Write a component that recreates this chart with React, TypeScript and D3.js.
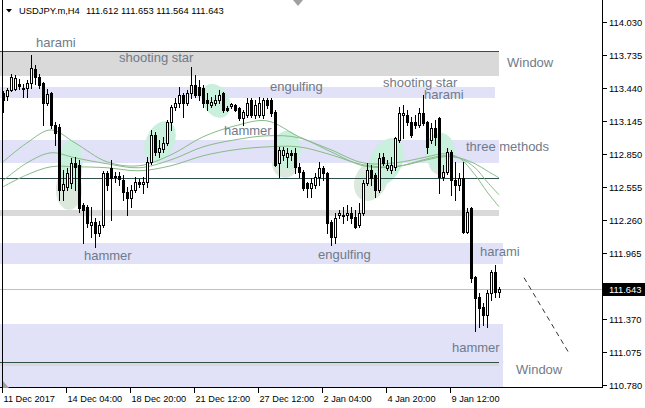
import React from "react";
import * as d3 from "d3";

const W = 645;
const H = 408;

// OHLC of USDJPY.m H4 bars (oldest first)
const opens = [113.395,113.368,113.422,113.431,113.476,113.440,113.440,113.485,113.610,113.538,113.485,113.306,113.395,113.109,113.091,112.528,112.555,112.591,112.769,112.752,112.394,112.376,112.215,112.242,112.144,112.215,112.680,112.725,112.653,112.653,112.617,112.510,112.457,112.528,112.600,112.582,112.600,112.778,113.020,112.868,112.895,112.948,113.136,113.270,113.306,113.377,113.306,113.395,113.467,113.449,113.440,113.333,113.288,113.306,113.333,113.395,113.261,113.279,113.288,113.261,113.172,113.199,113.333,113.199,113.199,113.199,113.333,113.333,113.225,112.769,112.841,112.823,112.859,112.859,112.734,112.689,112.591,112.546,112.573,112.644,112.725,112.680,112.242,112.108,112.305,112.305,112.305,112.322,112.287,112.215,112.322,112.591,112.707,112.662,112.528,112.823,112.725,112.707,112.734,112.975,113.199,113.199,113.136,113.136,113.109,113.216,113.136,112.975,113.082,113.172,112.644,112.689,112.868,112.617,112.573,112.635,112.153,112.367,111.750,111.570,111.482,111.411,111.607,111.795,111.612];
const highs = [113.413,113.440,113.565,113.556,113.520,113.476,113.511,113.735,113.646,113.565,113.494,113.431,113.404,113.136,113.118,112.707,112.725,112.814,112.823,112.796,112.412,112.394,112.376,112.278,112.251,112.698,112.698,112.796,112.689,112.689,112.662,112.555,112.573,112.644,112.626,112.644,112.823,113.064,113.047,112.975,113.002,113.154,113.288,113.351,113.449,113.395,113.422,113.628,113.556,113.511,113.467,113.395,113.359,113.377,113.422,113.404,113.279,113.306,113.297,113.270,113.243,113.351,113.351,113.333,113.359,113.351,113.351,113.351,113.243,112.912,112.912,112.904,112.886,112.904,112.769,112.707,112.600,112.635,112.680,112.778,112.743,112.689,112.260,112.322,112.349,112.376,112.394,112.376,112.349,112.412,112.617,112.769,112.752,112.680,112.859,112.859,112.796,112.823,113.002,113.270,113.288,113.243,113.181,113.199,113.261,113.377,113.140,113.127,113.154,113.181,112.752,112.904,112.886,112.778,112.680,112.778,112.367,112.370,111.759,111.607,111.518,111.634,111.813,111.858,111.653];
const lows = [113.225,113.333,113.413,113.422,113.431,113.359,113.359,113.440,113.476,113.440,113.109,113.288,113.082,112.930,112.439,112.439,112.528,112.546,112.528,112.331,112.054,112.197,112.108,112.018,112.117,112.197,112.528,112.260,112.600,112.573,112.439,112.305,112.376,112.510,112.555,112.501,112.555,112.761,112.841,112.823,112.868,112.930,113.064,113.243,113.270,113.181,113.288,113.351,113.359,113.333,113.270,113.243,113.270,113.288,113.306,113.225,113.234,113.261,113.234,113.154,113.109,113.181,113.181,113.172,113.181,113.172,113.261,113.190,112.745,112.644,112.796,112.734,112.796,112.680,112.644,112.528,112.465,112.465,112.546,112.573,112.617,112.144,112.036,112.054,112.278,112.233,112.260,112.233,112.188,112.197,112.305,112.573,112.573,112.465,112.510,112.752,112.707,112.680,112.707,112.957,112.993,113.109,113.002,113.082,113.091,113.109,112.859,112.948,112.930,112.501,112.617,112.671,112.483,112.439,112.528,112.145,112.144,111.706,111.259,111.303,111.321,111.303,111.545,111.571,111.564];
const closes = [113.333,113.422,113.538,113.529,113.458,113.431,113.485,113.619,113.538,113.467,113.306,113.386,113.109,113.038,112.528,112.582,112.680,112.769,112.734,112.367,112.349,112.233,112.242,112.144,112.215,112.680,112.573,112.635,112.644,112.626,112.510,112.457,112.528,112.600,112.582,112.600,112.778,113.020,112.868,112.904,112.948,113.136,113.270,113.306,113.377,113.306,113.395,113.467,113.377,113.377,113.306,113.306,113.315,113.333,113.377,113.243,113.243,113.297,113.243,113.172,113.225,113.306,113.199,113.288,113.306,113.333,113.288,113.216,112.752,112.886,112.886,112.859,112.841,112.734,112.689,112.546,112.546,112.591,112.644,112.725,112.680,112.233,112.108,112.278,112.322,112.296,112.322,112.278,112.197,112.322,112.591,112.707,112.635,112.528,112.814,112.769,112.752,112.752,112.993,113.216,113.216,113.136,113.020,113.109,113.216,113.127,112.912,113.082,113.002,112.644,112.689,112.868,112.617,112.573,112.635,112.153,112.331,111.741,111.563,111.473,111.411,111.607,111.795,111.616,111.643];

// time axis
const xTickBars = [0, 16, 32, 48, 64, 80, 96, 112];
const xTickLabels = ["11 Dec 2017", "14 Dec 04:00", "18 Dec 20:00", "21 Dec 12:00", "27 Dec 12:00", "2 Jan 04:00", "4 Jan 20:00", "9 Jan 12:00"];
// price axis
const yTickValues = [114.030, 113.735, 113.440, 113.145, 112.850, 112.555, 112.260, 111.965, 111.670, 111.370, 111.075, 110.780];

// three moving averages, sampled at these bars
const maBars = [0, 6, 12, 18, 26, 34, 42, 50, 58, 66, 74, 82, 90, 98, 106, 110, 114, 118, 121, 124];
const maFast = [112.778,112.948,113.064,112.948,112.778,112.743,112.841,113.002,113.100,113.145,113.002,112.886,112.769,112.769,112.823,112.850,112.814,112.662,112.510,112.376];
const maMid = [112.609,112.769,112.859,112.814,112.761,112.725,112.796,112.912,112.975,113.011,112.993,112.868,112.743,112.734,112.805,112.832,112.814,112.725,112.600,112.483];
const maSlow = [112.555,112.662,112.734,112.734,112.725,112.698,112.743,112.832,112.886,112.912,112.912,112.841,112.752,112.734,112.796,112.823,112.814,112.761,112.698,112.635];

// rectangles (price zones) : to bar, upper price, lower price
const zoneKinds = ["gray", "lav", "lav", "gray", "lav", "lav", "gray"];
const zoneTo = [124, 123, 124, 124, 125, 125, 124];
const zoneTop = [113.771, 113.449, 112.975, 112.349, 112.054, 111.330, 110.990];
const zoneBottom = [113.547, 113.351, 112.769, 112.296, 111.867, 110.740, 110.946];

// horizontal lines
const hLinePrices = [113.771, 112.635, 110.990];
const hLineTo = [124, 124, 124];

const lastPrice = 111.643;

// pattern highlight ellipses: bar, price, radii (px), rotation, tone
const ellBar = [16.5, 17, 39.25, 53.25, 70.5, 71, 92, 95.75, 109.5, 109.25];
const ellPrice = [112.528, 112.752, 112.957, 113.324, 112.769, 112.886, 112.609, 112.778, 112.761, 112.868];
const ellRx = [13, 11.5, 14, 13, 13, 14, 16, 16, 12, 15];
const ellRy = [20, 25, 22, 18, 15, 19, 21, 25, 11, 19];
const ellRot = [0, 0, 25, -30, 0, 0, 25, 25, 0, 0];
const ellTone = ["pale", "mint", "mint", "mint", "pale", "mint", "pale", "mint", "pale", "mint"];

// pattern labels: text, bar of text start, price of baseline
const labelTexts = ["harami", "shooting star", "engulfing", "hammer", "shooting star", "harami", "three methods", "Window", "hammer", "engulfing", "harami", "hammer", "Window"];
const labelBars = [8.25, 29, 66.75, 55.25, 95, 105.25, 115.75, 126, 20.25, 78.75, 119.25, 112.25, 128.25];
const labelPrices = [113.807, 113.673, 113.414, 113.020, 113.451, 113.341, 112.875, 113.628, 111.903, 111.912, 111.935, 111.075, 110.879];

// dashed projection line
const dashBars = [130.25, 141.25];
const dashPrices = [111.741, 111.080];

export default function App() {
  const x = d3.scaleLinear().domain([0, 124]).range([3, 499]);
  const y = d3.scaleLinear().domain([110.78, 114.03]).range([385, 22]);
  const plotRight = 602.5;
  const plotBottom = 387.5;
  const font = "'Liberation Sans', Arial, sans-serif";

  const maLine = d3
    .line<number>()
    .x((_, i) => x(maBars[i]))
    .y((d) => y(d))
    .curve(d3.curveCatmullRom.alpha(0.5));

  const zoneFill: Record<string, string> = { gray: "#d9d9d9", lav: "#e1e1f8" };
  const ellFill: Record<string, string> = { mint: "#c8f0dc", pale: "#dbe8dc" };
  const textColor = "#6f7b8a";
  const last = [opens[124], highs[124], lows[124], closes[124]].map((v) => v.toFixed(3)).join(" ");

  return (
    <div style={{ position: "absolute", left: 0, top: 0 }}>
      <svg width={W} height={H} style={{ display: "block", background: "#fff" }}>
        <defs>
          <clipPath id="plot">
            <rect x={0} y={0} width={plotRight} height={plotBottom} />
          </clipPath>
        </defs>
        <g clipPath="url(#plot)">
          {zoneTop.map((t, i) => {
            const y0 = Math.round(y(t));
            const y1 = Math.round(y(zoneBottom[i]));
            return (
              <rect
                key={"z" + i}
                x={0}
                y={y0}
                width={Math.round(x(zoneTo[i]))}
                height={y1 - y0}
                fill={zoneFill[zoneKinds[i]]}
              />
            );
          })}
          {ellBar.map((b, i) => (
            <ellipse
              key={"e" + i}
              cx={x(b)}
              cy={y(ellPrice[i])}
              rx={ellRx[i]}
              ry={ellRy[i]}
              fill={ellFill[ellTone[i]]}
              transform={`rotate(${ellRot[i]} ${x(b)} ${y(ellPrice[i])})`}
            />
          ))}
          {hLinePrices.map((p, i) => (
            <line
              key={"h" + i}
              x1={0}
              x2={Math.round(x(hLineTo[i]))}
              y1={Math.round(y(p)) + 0.5}
              y2={Math.round(y(p)) + 0.5}
              stroke="#2f4f4f"
              strokeWidth={1}
            />
          ))}
          <line
            x1={0}
            x2={plotRight}
            y1={Math.round(y(lastPrice)) + 0.5}
            y2={Math.round(y(lastPrice)) + 0.5}
            stroke="#c0c0c0"
          />
          {[maSlow, maMid, maFast].map((s, k) => (
            <path key={"ma" + k} d={maLine(s) || ""} fill="none" stroke="#88bc88" strokeWidth={1} />
          ))}
          {opens.map((o, i) => {
            const c = closes[i];
            const cx = Math.round(x(i));
            const yH = Math.round(y(highs[i]));
            const yL = Math.round(y(lows[i]));
            const yO = Math.round(y(o));
            const yC = Math.round(y(c));
            const top = Math.min(yO, yC);
            const bot = Math.max(yO, yC);
            const bull = c >= o;
            return (
              <g key={"c" + i} shapeRendering="crispEdges">
                <line x1={cx + 0.5} x2={cx + 0.5} y1={yH} y2={yL + 1} stroke="#000" />
                {bot - top < 1 ? (
                  <line x1={cx - 1} x2={cx + 2} y1={top + 0.5} y2={top + 0.5} stroke="#000" />
                ) : (
                  <rect
                    x={cx - 0.5}
                    y={top + 0.5}
                    width={2}
                    height={bot - top}
                    fill={bull ? "#fff" : "#000"}
                    stroke="#000"
                  />
                )}
              </g>
            );
          })}
          <line
            x1={x(dashBars[0])}
            y1={y(dashPrices[0])}
            x2={x(dashBars[1])}
            y2={y(dashPrices[1])}
            stroke="#333"
            strokeDasharray="5,4"
          />
          {labelTexts.map((t, i) => (
            <text
              key={"l" + i}
              x={x(labelBars[i])}
              y={y(labelPrices[i])}
              fontFamily={font}
              fontSize={13}
              fill={textColor}
            >
              {t}
            </text>
          ))}
        </g>

        {/* frame */}
        <g shapeRendering="crispEdges">
          <line x1={2.5} x2={2.5} y1={0} y2={plotBottom} stroke="#000" />
          <line x1={plotRight} x2={plotRight} y1={0} y2={plotBottom} stroke="#000" />
          <line x1={0} x2={plotRight} y1={plotBottom} y2={plotBottom} stroke="#000" />
        </g>
        <path d="M293,0 L303,0 L298,6 Z" fill="#a0a0a0" />
        <path d="M3,388 L3,381 L9,388 Z" fill="#a0a0a0" />

        {/* price axis */}
        {yTickValues.map((v, i) => {
          const yy = Math.round(y(v)) + 0.5;
          return (
            <g key={"yt" + i}>
              <line x1={plotRight} x2={plotRight + 4} y1={yy} y2={yy} stroke="#000" shapeRendering="crispEdges" />
              <text x={609} y={yy + 3.5} fontFamily={font} fontSize={9.4} fill="#000">
                {v.toFixed(3)}
              </text>
            </g>
          );
        })}
        <rect x={603} y={Math.round(y(lastPrice)) - 6} width={42} height={13} fill="#000" />
        <text x={609} y={Math.round(y(lastPrice)) + 4} fontFamily={font} fontSize={9.4} fill="#fff">
          {lastPrice.toFixed(3)}
        </text>

        {/* time axis */}
        {xTickBars.map((b, i) => {
          const xx = Math.round(x(b)) - 0.5;
          return (
            <g key={"xt" + i}>
              <line x1={xx} x2={xx} y1={plotBottom} y2={plotBottom + 5} stroke="#000" shapeRendering="crispEdges" />
              <text x={xx + 1} y={402} fontFamily={font} fontSize={9.2} fill="#000">
                {xTickLabels[i]}
              </text>
            </g>
          );
        })}

        {/* header */}
        <path d="M6,9 L12,9 L9,12.5 Z" fill="#000" />
        <text x={19} y={14} fontFamily={font} fontSize={9.4} fill="#000">
          USDJPY.m,H4
        </text>
        <text x={86} y={14} fontFamily={font} fontSize={9.4} fill="#000">
          {last}
        </text>
      </svg>
    </div>
  );
}
